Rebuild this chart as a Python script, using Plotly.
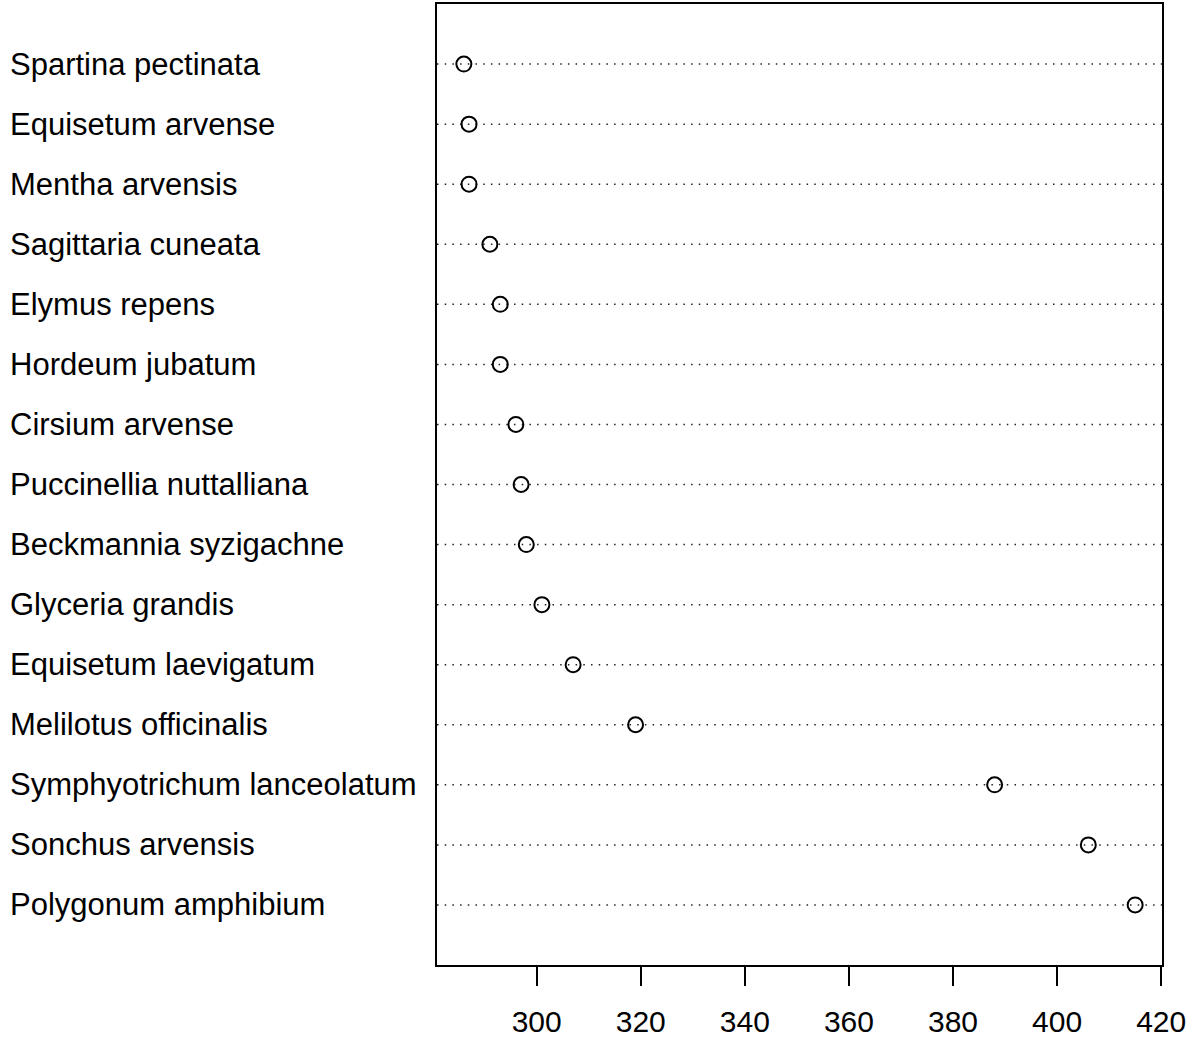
import plotly.graph_objects as go

species = [
    "Spartina pectinata", "Equisetum arvense", "Mentha arvensis", "Sagittaria cuneata",
    "Elymus repens", "Hordeum jubatum", "Cirsium arvense", "Puccinellia nuttalliana",
    "Beckmannia syzigachne", "Glyceria grandis", "Equisetum laevigatum",
    "Melilotus officinalis", "Symphyotrichum lanceolatum", "Sonchus arvensis",
    "Polygonum amphibium",
]
values = [286, 287, 287, 291, 293, 293, 296, 297, 298, 301, 307, 319, 388, 406, 415]
x_ticks = [300, 320, 340, 360, 380, 400, 420]

n = len(species)
rows = [n - i for i in range(n)]  # top item at n, bottom at 1

FONT = "Liberation Sans, Arial, Helvetica, sans-serif"

fig = go.Figure()

shapes = []
for r in rows:
    shapes.append(dict(type="line", xref="paper", yref="y", x0=0, x1=1, y0=r, y1=r,
                       line=dict(color="#222222", width=1.5, dash="1.5px,6.2px"), layer="below"))

fig.add_trace(go.Scatter(
    x=values, y=rows, mode="markers",
    marker=dict(symbol="circle-open", size=15, color="black", line=dict(width=2, color="black")),
    showlegend=False, hoverinfo="x+y",
))

annotations = []
for name, r in zip(species, rows):
    annotations.append(dict(text=name, xref="paper", yref="y", x=(8 - 437) / 725, y=r,
                            xanchor="left", yanchor="middle", showarrow=False,
                            font=dict(family=FONT, size=31, color="black")))

xmin, xmax = min(values), max(values)
pad = (xmax - xmin) * 0.04

fig.update_layout(
    width=1192, height=1038,
    margin=dict(l=437, r=30, t=4, b=73, pad=0, autoexpand=False),
    paper_bgcolor="white", plot_bgcolor="white",
    shapes=shapes, annotations=annotations,
    font=dict(family=FONT, size=30, color="black"),
    xaxis=dict(range=[xmin - pad, xmax + pad], tickvals=x_ticks, ticktext=[str(t) for t in x_ticks],
               showgrid=False, zeroline=False, showline=True, mirror=True, linecolor="black",
               linewidth=1.6, ticks="outside", ticklen=19, tickwidth=1.6, tickcolor="black",
               ticklabelstandoff=10, automargin=False,
               tickfont=dict(family=FONT, size=30, color="black")),
    yaxis=dict(range=[0, n + 1], showticklabels=False, showgrid=False, zeroline=False,
               showline=True, mirror=True, linecolor="black", linewidth=1.6, ticks="",
               automargin=False),
)

fig.write_html("out.html", config={"displayModeBar": False},
               post_script="document.body.style.margin='0';document.body.style.overflow='hidden';")
